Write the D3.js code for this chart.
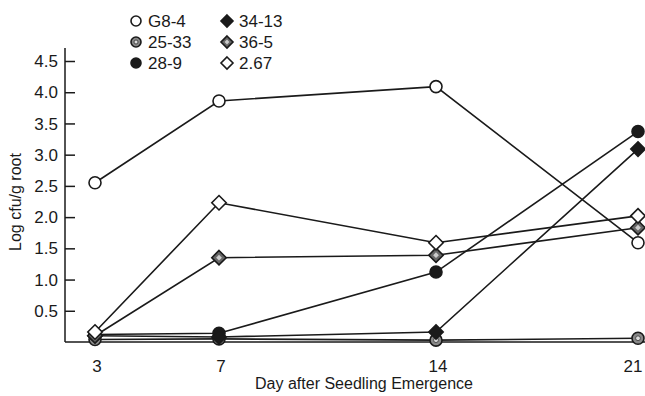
<!DOCTYPE html>
<html lang="en">
<head>
  <meta charset="UTF-8">
  <title>Log cfu/g root by day after seedling emergence</title>
  <script src="https://d3js.org/d3.v7.min.js"></script>
</head>
<body style="margin:0;background:#fff">

<div id="chart"></div>

<script>

var days = [3, 7, 14, 21];
var seriesNames = ["G8-4", "25-33", "28-9", "34-13", "36-5", "2.67"];
var g84   = [2.55, 3.86, 4.09, 1.59];
var s2533 = [0.04, 0.05, 0.03, 0.06];
var s289  = [0.12, 0.14, 1.12, 3.37];
var s3413 = [0.10, 0.08, 0.16, 3.09];
var s365  = [0.10, 1.35, 1.39, 1.83];
var s267  = [0.16, 2.23, 1.59, 2.02];
var yTicks = [0.5, 1.0, 1.5, 2.0, 2.5, 3.0, 3.5, 4.0, 4.5];

var width = 645, height = 396;
var ink = "#1a1a1a";
var font = "'Liberation Sans', Arial, sans-serif";

var series = [
  {name: seriesNames[0], values: g84,   shape: "circle",  fill: "#fff"},
  {name: seriesNames[1], values: s2533, shape: "circle",  fill: "#888", inner: "#ddd"},
  {name: seriesNames[2], values: s289,  shape: "circle",  fill: ink},
  {name: seriesNames[3], values: s3413, shape: "diamond", fill: ink},
  {name: seriesNames[4], values: s365,  shape: "diamond", fill: "#666", inner: "#ccc"},
  {name: seriesNames[5], values: s267,  shape: "diamond", fill: "#fff"}
];

var svg = d3.select("#chart").append("svg")
  .attr("width", width)
  .attr("height", height)
  .style("font-family", font);

// x positions in the figure are not quite even, so a piecewise scale
var x = d3.scaleLinear()
  .domain(days)
  .range([95, 219, 436, 638]);

var y = d3.scaleLinear()
  .domain([0, 4.5])
  .range([342, 61]);

// axes
svg.append("line")
  .attr("x1", 65).attr("x2", 645)
  .attr("y1", y(0)).attr("y2", y(0))
  .attr("stroke", ink).attr("stroke-width", 1.5);

var yAxis = svg.append("g")
  .attr("transform", "translate(65,0)")
  .call(d3.axisRight(y).tickValues(yTicks).tickSize(10).tickFormat(""));
yAxis.select(".domain").remove();
yAxis.selectAll(".tick line").attr("stroke", ink).attr("stroke-width", 1.5);

svg.append("line")
  .attr("x1", 65).attr("x2", 65)
  .attr("y1", y(0)).attr("y2", y(4.71))
  .attr("stroke", ink).attr("stroke-width", 1.5);

svg.selectAll(".ylab")
  .data(yTicks)
  .enter().append("text")
  .attr("x", 58)
  .attr("y", d => y(d))
  .attr("dy", "0.36em")
  .attr("text-anchor", "end")
  .attr("font-size", 17)
  .attr("fill", ink)
  .text(d3.format(".1f"));

svg.selectAll(".xlab")
  .data(days)
  .enter().append("text")
  .attr("x", d => Math.min(x(d) + 2, 633))
  .attr("y", 366)
  .attr("dy", "0.36em")
  .attr("text-anchor", "middle")
  .attr("font-size", 17)
  .attr("fill", ink)
  .text(d => d);

svg.append("text")
  .attr("x", 364).attr("y", 389)
  .attr("text-anchor", "middle")
  .attr("font-size", 16)
  .attr("fill", ink)
  .text("Day after Seedling Emergence");

svg.append("text")
  .attr("transform", "translate(21,202) rotate(-90)")
  .attr("text-anchor", "middle")
  .attr("font-size", 16)
  .attr("fill", ink)
  .text("Log cfu/g root");

// lines
var line = d3.line()
  .x((d, i) => x(days[i]))
  .y(d => y(d));

svg.selectAll(".series")
  .data(series)
  .enter().append("path")
  .attr("d", d => line(d.values))
  .attr("fill", "none")
  .attr("stroke", ink)
  .attr("stroke-width", 1.6);

// markers
function drawMarker(g, s, r) {
  if (s.shape === "circle") {
    g.append("circle").attr("r", r)
      .attr("fill", s.fill).attr("stroke", ink).attr("stroke-width", 1.6);
    if (s.inner) g.append("circle").attr("r", r * 0.4).attr("fill", s.inner).attr("stroke", "#333").attr("stroke-width", 0.8);
  } else {
    var d = r * 1.2;
    g.append("path")
      .attr("d", "M0," + (-d) + "L" + d + ",0L0," + d + "L" + (-d) + ",0Z")
      .attr("fill", s.fill).attr("stroke", ink).attr("stroke-width", 1.6);
    if (s.inner) {
      var e = d * 0.4;
      g.append("path")
        .attr("d", "M0," + (-e) + "L" + e + ",0L0," + e + "L" + (-e) + ",0Z")
        .attr("fill", s.inner);
    }
  }
}

series.forEach(function(s) {
  s.values.forEach(function(v, i) {
    var g = svg.append("g").attr("transform", "translate(" + x(days[i]) + "," + y(v) + ")");
    drawMarker(g, s, 6);
  });
});

// legend
var legend = svg.append("g");
series.forEach(function(s, i) {
  var col = Math.floor(i / 3), row = i % 3;
  var lx = 136 + col * 91, ly = 21 + row * 21;
  var g = legend.append("g").attr("transform", "translate(" + lx + "," + ly + ")");
  drawMarker(g, s, 5);
  g.append("text")
    .attr("x", 12)
    .attr("dy", "0.36em")
    .attr("font-size", 17)
    .attr("fill", ink)
    .text(s.name);
});

</script>

</body>
</html>
